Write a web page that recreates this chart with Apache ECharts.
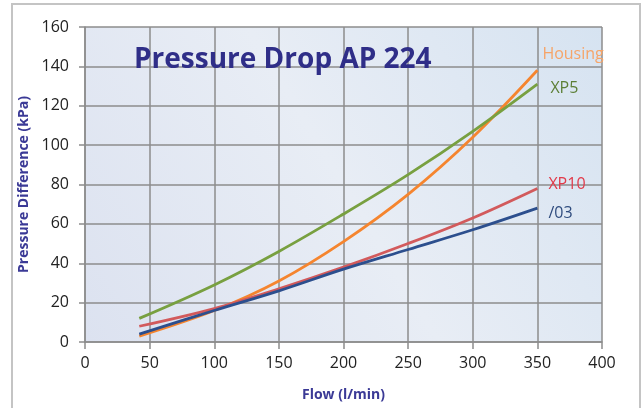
<!DOCTYPE html>
<html><head><meta charset="utf-8">
<script src="https://cdn.jsdelivr.net/npm/echarts@6/dist/echarts.min.js"></script>
<style>html,body{margin:0;padding:0;background:#fff}#c{width:643px;height:408px}</style>
</head><body><div id="c"></div>
<script>
var flow = [42, 100, 150, 200, 250, 300, 350];
var housing = [3, 16, 31, 51, 75, 104, 138];
var xp5 = [12, 29, 46, 65, 85, 107, 131];
var xp10 = [8, 17, 27, 38, 50, 63, 78];
var s03 = [4, 16, 26, 37, 47, 57, 68];
var seriesNames = ['Housing', 'XP5', 'XP10', '/03'];
var xTicks = [0, 50, 100, 150, 200, 250, 300, 350, 400];
var yTicks = [0, 20, 40, 60, 80, 100, 120, 140, 160];

function pairs(v){ return flow.map(function(f,i){ return [f, v[i]]; }); }
var chart = echarts.init(document.getElementById('c'));
var gridColor = '#8c8c8c';
var font = '"Open Sans", sans-serif';
function mk(name, data, color, labelColor, off){
  return {
    type: 'line', name: name, data: pairs(data), smooth: 0.35, showSymbol: false,
    lineStyle: {color: color, width: 2.8}, itemStyle: {color: color},
    endLabel: {show: true, formatter: name, color: labelColor, fontFamily: font,
      fontSize: 16, offset: off}
  };
}
chart.setOption({
  animation: false,
  graphic: [
    {type: 'rect', shape: {x: 12, y: 4, width: 628, height: 420},
     style: {fill: 'none', stroke: '#c4c4c4', lineWidth: 2}, z: -10},
    {type: 'rect', shape: {x: 85, y: 27, width: 517, height: 315}, z: -5, silent: true,
     style: {fill: new echarts.graphic.LinearGradient(0, 1, 1, 0, [
       {offset: 0, color: '#dce2f0'}, {offset: 0.5, color: '#e8edf5'}, {offset: 1, color: '#d6e3f1'}])}},
    {type: 'text', left: 134, top: 46, z: 10,
     style: {text: 'Pressure Drop AP 224', fill: '#2f2e88', font: 'bold 28px ' + font,
       shadowColor: '#ffffff', shadowBlur: 14}}
  ],
  grid: {left: 85, right: 41, top: 27, bottom: 66},
  xAxis: {
    type: 'value', min: 0, max: 400, interval: 50,
    name: 'Flow (l/min)', nameLocation: 'middle', nameGap: 46,
    nameTextStyle: {color: '#3b3a96', fontWeight: 'bold', fontSize: 14, fontFamily: font},
    axisLine: {show: true, lineStyle: {color: gridColor, width: 1.5}},
    axisTick: {show: true, length: 7, lineStyle: {color: gridColor, width: 1.5}},
    axisLabel: {color: '#222', fontSize: 16, fontFamily: font, margin: 13,
      formatter: function(v){ return xTicks.indexOf(v) >= 0 ? String(v) : ''; }},
    splitLine: {show: true, lineStyle: {color: gridColor, width: 1.5}}
  },
  yAxis: {
    type: 'value', min: 0, max: 160, interval: 20,
    name: 'Pressure Difference (kPa)', nameLocation: 'middle', nameGap: 48,
    nameTextStyle: {color: '#3b3a96', fontWeight: 'bold', fontSize: 14, fontFamily: font},
    axisLine: {show: true, lineStyle: {color: gridColor, width: 1.5}},
    axisTick: {show: true, length: 6, lineStyle: {color: gridColor, width: 1.5}},
    axisLabel: {color: '#222', fontSize: 16, fontFamily: font, margin: 16,
      formatter: function(v){ return yTicks.indexOf(v) >= 0 ? String(v) : ''; }},
    splitLine: {show: true, lineStyle: {color: gridColor, width: 1.5}}
  },
  series: [
    mk(seriesNames[0], housing, '#f5852f', '#f6a468', [-3, -16]),
    mk(seriesNames[1], xp5, '#78a040', '#5c7f36', [5, 4]),
    mk(seriesNames[2], xp10, '#d25a5c', '#e23a4a', [3, -4]),
    mk(seriesNames[3], s03, '#2c4f8e', '#2f4c7e', [3, 5])
  ]
});
</script></body></html>
